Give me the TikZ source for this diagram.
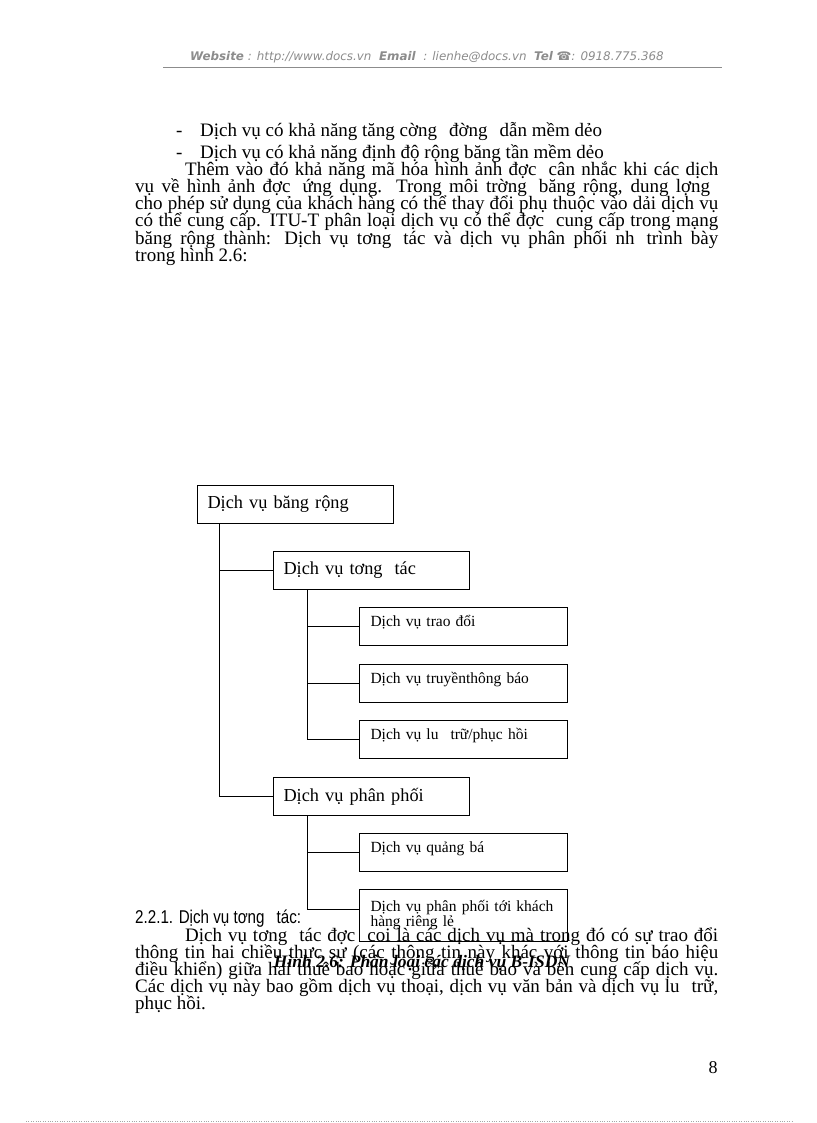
\documentclass[tikz,border=0pt]{standalone}
\usepackage{fontspec}
\setmainfont{Liberation Serif}
\newfontfamily\hdrfont{DejaVu Sans}
\newfontfamily\narrowfont[FakeStretch=0.82]{Liberation Sans}
\newfontfamily\symfont{DejaVu Sans}
\usetikzlibrary{positioning}

\newcommand{\holegap}{\hspace{12pt}}
\newcommand{\justline}[1]{\makebox[583pt][s]{#1}}
\newcommand{\justfirst}[1]{\makebox[533pt][s]{#1}}

\tikzset{
  bigbox/.style={draw, line width=1pt, anchor=north west, minimum height=38pt,
    text width=176pt, inner xsep=10pt, align=left, font=\fontsize{18.3}{20}\selectfont},
  smallbox/.style={draw, line width=1pt, anchor=north west, minimum height=38pt,
    text width=186pt, inner xsep=11pt, align=left, font=\fontsize{15.5}{15}\selectfont},
  leafbox/.style={smallbox, text depth=11pt},
  txt/.style={anchor=base west, inner sep=0pt, font=\fontsize{19}{17}\selectfont},
  link/.style={line width=0.9pt},
}

\begin{document}
\begin{tikzpicture}[x=1pt, y=-1pt]
  \fill[white] (0,0) rectangle (816,1123);
  \useasboundingbox (0,0) rectangle (816,1123);

  % header
  \node[inner sep=0pt, text=black!45, font=\hdrfont\fontsize{11.9}{13}\selectfont\itshape] (hdr) at (427,57)
    {\textbf{Website} : http://www.docs.vn\ \ \textbf{Email}\ \ : lienhe@docs.vn\ \ \textbf{Tel} {\symfont\upshape ☎}: 0918.775.368};
  \draw[black!45, line width=0.8pt] (163,67) -- (722,67);

  % text above the figure
  \node[txt] (dash1) at (176,137) {-};
  \node[txt] (item1) at (200,137) {Dịch vụ có khả năng tăng cờng\holegap đờng\holegap dẫn mềm dẻo};
  \node[txt] (dash2) at (176,159) {-};
  \node[txt] (item2) at (200,159) {Dịch vụ có khả năng định độ rộng băng tần mềm dẻo};
  \node[txt] (p1) at (185,176) {\justfirst{Thêm vào đó khả năng mã hóa hình ảnh đợc\holegap cân nhắc khi các dịch}};
  \node[txt] (p2) at (135,193) {\justline{vụ về hình ảnh đợc\holegap ứng dụng. Trong môi trờng\holegap băng rộng, dung lợng\hspace*{8pt}}};
  \node[txt] (p3) at (135,210) {\justline{cho phép sử dụng của khách hàng có thể thay đổi phụ thuộc vào dải dịch vụ}};
  \node[txt] (p4) at (135,227) {\justline{có thể cung cấp. ITU-T phân loại dịch vụ có thể đợc\holegap cung cấp trong mạng}};
  \node[txt] (p5) at (135,244) {\justline{băng rộng thành: Dịch vụ tơng\holegap tác và dịch vụ phân phối nh\holegap trình bày}};
  \node[txt] (p6) at (135,261) {trong hình 2.6:};

  % figure
  \node[bigbox] (bang) at (197,485) {Dịch vụ băng rộng};
  \node[bigbox] (tuongtac) at (273,551) {Dịch vụ tơng\holegap tác};
  \node[leafbox] (traodoi) at (359,607) {Dịch vụ trao đổi};
  \node[leafbox] (thongbao) at (359,664) {Dịch vụ truyềnthông báo};
  \node[leafbox] (luutru) at (359,720) {Dịch vụ lu\holegap trữ/phục hồi};
  \node[bigbox] (phanphoi) at (273,777) {Dịch vụ phân phối};
  \node[leafbox] (quangba) at (359,833) {Dịch vụ quảng bá};
  \node[smallbox, minimum height=52pt] (rieng) at (359,889) {Dịch vụ phân phối tới khách\\hàng riêng lẻ};

  \draw[link] ([xshift=22pt]bang.south west) |- (tuongtac.west);
  \draw[link] ([xshift=22pt]bang.south west) |- (phanphoi.west);
  \draw[link] ([xshift=34pt]tuongtac.south west) |- (traodoi.west);
  \draw[link] ([xshift=34pt]tuongtac.south west) |- (thongbao.west);
  \draw[link] ([xshift=34pt]tuongtac.south west) |- (luutru.west);
  \draw[link] ([xshift=34pt]phanphoi.south west) |- (quangba.west);
  \draw[link] ([xshift=34pt]phanphoi.south west) |- ([yshift=6pt]rieng.west);

  % text below the figure
  \node[txt, font=\narrowfont\fontsize{18.5}{17}\selectfont] (sec) at (135,923) {2.2.1. Dịch vụ tơng\holegap tác:};
  \node[txt] (q1) at (185,941) {\justfirst{Dịch vụ tơng\holegap tác đợc\holegap coi là các dịch vụ mà trong đó có sự trao đổi}};
  \node[txt] (q2) at (135,958) {\justline{thông tin hai chiều thực sự (các thông tin này khác với thông tin báo hiệu}};
  \node[txt] (q3) at (135,975) {\justline{điều khiển) giữa hai thuê bao hoặc giữa thuê bao và bên cung cấp dịch vụ.}};
  \node[txt] (q4) at (135,992) {\justline{Các dịch vụ này bao gồm dịch vụ thoại, dịch vụ văn bản và dịch vụ lu\holegap trữ,}};
  \node[txt] (q5) at (135,1009) {phục hồi.};
  \node[anchor=base, inner sep=0pt, font=\fontsize{17.5}{18}\selectfont\bfseries\itshape] (cap) at (422,967)
    {Hình 2.6: Phân loại các dịch vụ B-ISDN};

  % page number and footer
  \node[inner sep=0pt, font=\fontsize{18}{18}\selectfont] (pg) at (713,1068) {8};
  \draw[black!35, dotted] (26,1121) -- (792,1121);
\end{tikzpicture}
\end{document}
